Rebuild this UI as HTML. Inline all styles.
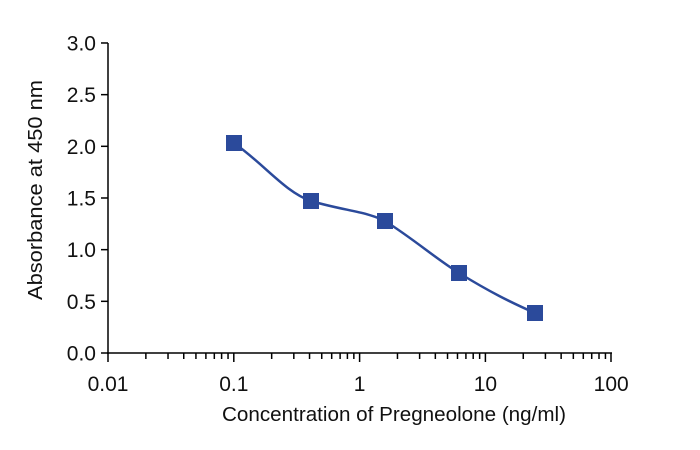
<!DOCTYPE html>
<html><head><meta charset="utf-8"><style>
html,body{margin:0;padding:0;background:#fff;width:700px;height:450px;overflow:hidden}
text{font-family:"Liberation Sans",sans-serif;fill:#111}
</style></head><body>
<svg id="s" width="700" height="450" xmlns="http://www.w3.org/2000/svg">
<line x1="108" y1="43" x2="108" y2="354" stroke="#000" stroke-width="1.5"/>
<line x1="107" y1="353" x2="612" y2="353" stroke="#000" stroke-width="1.5"/>
<g id="t" stroke="#000" stroke-width="1.5"></g>
<g id="l" font-size="21"></g>
<text x="222" y="421" font-size="20" textLength="344" lengthAdjust="spacingAndGlyphs">Concentration of Pregneolone (ng/ml)</text>
<text transform="translate(42,300) rotate(-90)" font-size="20" textLength="220" lengthAdjust="spacingAndGlyphs">Absorbance at 450 nm</text>
<path d="M234,143 C265,165 285,192 311,201 C345,211 365,211 385,221 C415,240 435,258 459,273 C490,292 510,302 535,313" fill="none" stroke="#2b4a9b" stroke-width="2.5"/>
<g fill="#2b4a9b">
<rect x="226" y="135" width="16" height="16"/>
<rect x="303" y="193" width="16" height="16"/>
<rect x="377" y="213" width="16" height="16"/>
<rect x="451" y="265" width="16" height="16"/>
<rect x="527" y="305" width="16" height="16"/>
</g>
</svg>
<script>
var t=document.getElementById('t'),l=document.getElementById('l'),h='';
var x0=108,d=125.8;
for(var k=0;k<4;k++){for(var m=1;m<=9;m++){var x=x0+d*(k+Math.log10(m));h+='<line x1="'+x+'" y1="353" x2="'+x+'" y2="'+(m==1?362:359)+'"/>';}}
h+='<line x1="611" y1="353" x2="611" y2="362"/>';
var lab=['0.01','0.1','1','10','100'],lh='';
for(var i=0;i<5;i++){lh+='<text x="'+(x0+d*i)+'" y="391" text-anchor="middle">'+lab[i]+'</text>';}
for(var j=0;j<=6;j++){var y=353-j*51.67;h+='<line x1="101" y1="'+y+'" x2="108" y2="'+y+'"/>';lh+='<text x="96" y="'+(y+7.5)+'" text-anchor="end">'+(j*0.5).toFixed(1)+'</text>';}
t.innerHTML=h;l.innerHTML=lh;
</script>
</body></html>
